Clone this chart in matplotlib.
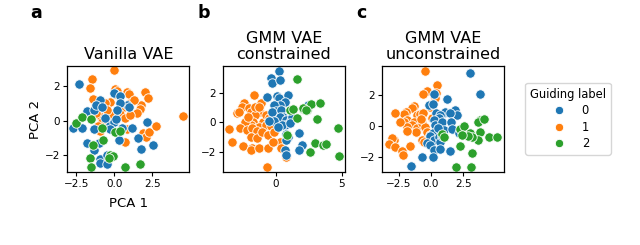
import numpy as np
import matplotlib
matplotlib.use('Agg')
import matplotlib.pyplot as plt
from matplotlib.lines import Line2D

plt.rcParams['font.family'] = ['DejaVu Sans']

colors = ['#1f77b4', '#ff7f0e', '#2ca02c']
labels = ['0', '1', '2']

# panel a: Vanilla VAE  (x, y) per guiding label
a_blue = [(-2.33, 2.16), (-1.78, 0.57), (-1.35, 0.63), (-0.96, 1.22), (-1.24, 0.92),
          (-2.61, -0.31), (-2.70, -0.45), (-2.11, -0.45), (-1.35, -0.49), (-0.26, -0.25),
          (0.0, -0.06), (0.13, 0.08), (-0.26, -0.49), (0.28, -0.65), (0.50, -0.45),
          (1.15, -0.45), (2.17, -0.06), (1.54, -1.04), (1.74, -1.63), (2.52, -1.43),
          (-0.04, 1.61), (0.35, 1.45), (0.83, 0.92), (0.96, 0.78), (0.39, 1.02),
          (0.17, 0.63), (-1.78, -1.29), (-1.02, -1.33), (-1.35, -1.73), (-0.96, -2.22),
          (-0.48, -2.02), (-0.96, -2.47), (-0.48, -2.51), (0.28, -1.14), (-0.59, 0.14),
          (-0.80, 0.82)]
a_orange = [(0.0, 2.94), (-1.46, 2.45), (-1.61, 1.90), (0.07, 1.84), (0.17, 1.71),
            (0.02, 1.57), (0.83, 1.67), (0.93, 1.55), (2.02, 1.67), (2.24, 1.31),
            (-1.39, 1.25), (-0.91, 1.12), (-0.26, 1.08), (-0.59, 1.02), (1.04, 1.06),
            (1.76, 0.92), (1.65, 0.67), (1.48, 0.43), (0.50, 0.73), (0.35, 0.37),
            (-0.26, 0.33), (-0.87, 0.20), (-0.80, -0.06), (-1.09, -0.29), (-0.96, -0.61),
            (-0.37, -0.16), (0.72, 0.14), (0.83, -0.49), (0.72, -1.24), (1.91, -0.75),
            (2.09, -0.98), (2.30, -0.65), (2.72, -0.29), (4.48, 0.27), (1.26, 1.22),
            (-0.48, 0.63), (-1.24, 0.43), (1.04, 0.33)]
a_green = [(-2.54, -0.16), (-2.11, 0.20), (-1.52, 0.08), (-0.80, -0.45), (-0.78, -1.14),
           (-1.39, -1.43), (-1.61, -2.16), (-1.52, -2.71), (-0.26, -2.02), (-0.09, -2.08),
           (-0.37, -2.16), (0.67, -2.71), (1.70, -2.51), (0.07, -0.65), (0.39, -0.59)]

# panel b: GMM VAE constrained
b_blue = [(0.25, 3.50), (-0.33, 3.0), (-0.25, 2.66), (0.31, 2.84), (-0.64, 1.70),
          (0.10, 1.80), (0.25, 1.64), (0.94, 1.86), (0.69, 1.41), (0.31, 1.18),
          (-0.08, 1.18), (0.0, 0.77), (-0.25, 0.73), (0.43, 0.84), (0.56, 0.39),
          (0.31, 0.34), (-0.13, 0.09), (-0.46, 0.09), (0.81, 0.16), (1.20, 0.16),
          (1.27, 0.34), (0.69, -0.18), (0.51, -0.18), (2.47, 1.18), (1.78, -0.70),
          (0.81, -0.80), (0.94, -0.98), (0.76, -1.20), (0.69, -1.89), (0.76, -2.23),
          (2.04, -1.55), (1.78, -1.89), (1.07, -0.07), (0.18, -0.30)]
b_orange = [(-1.60, 1.86), (-2.37, 1.30), (-2.54, 1.07), (-2.95, 0.66), (-2.75, 0.73),
            (-2.04, 0.95), (-1.86, 0.73), (-1.09, 1.30), (-1.17, 0.73), (-1.53, 0.50),
            (-0.97, 0.05), (-1.73, 0.05), (-1.86, -0.18), (-2.29, 0.05), (-1.27, -0.30),
            (-0.71, 0.50), (-0.51, 0.27), (-0.71, -0.18), (-0.33, -0.25), (-3.51, -0.48),
            (-2.70, -0.41), (-2.19, -0.52), (-1.78, -0.41), (-1.42, -0.59), (-1.86, -0.98),
            (-1.42, -1.09), (-1.02, -0.64), (-0.59, -0.86), (-0.15, -0.64), (0.36, -1.32),
            (-3.26, -1.32), (-2.49, -1.61), (-1.78, -1.77), (-1.86, -1.89), (-1.22, -1.77),
            (-0.59, -1.77), (0.43, -1.77), (-0.66, -3.02), (-0.20, -1.32), (0.76, -2.39),
            (-1.53, 1.07), (-1.22, 1.02), (-2.11, 0.39)]
b_green = [(1.63, 2.93), (1.12, 0.84), (1.30, 0.90), (2.09, 0.89), (2.39, 0.84),
           (2.72, 1.25), (3.36, 1.34), (1.63, 0.32), (3.16, 0.20), (4.76, -0.36),
           (0.84, -0.86), (2.98, -1.43), (3.61, -1.55), (3.82, -1.50), (2.60, -2.0),
           (4.83, -2.30), (2.06, 0.96), (2.30, 0.80)]

# panel c: GMM VAE unconstrained
c_blue = [(3.0, 3.42), (3.77, 2.04), (0.21, 2.09), (-0.18, 1.33), (0.16, 1.44),
          (1.24, 1.76), (0.98, 0.80), (1.11, 0.90), (0.41, 0.80), (0.72, 0.69),
          (0.59, 0.47), (1.89, 1.05), (2.02, 0.69), (1.50, 0.80), (0.21, 0.37),
          (0.34, 0.04), (0.85, 0.26), (1.55, 0.26), (0.98, -0.28), (1.63, -0.24),
          (2.14, -0.45), (0.16, -0.49), (-0.05, -0.67), (0.26, -0.92), (0.59, -0.75),
          (-0.31, -1.14), (-0.05, -1.25), (0.72, -1.03), (0.26, -1.57), (0.67, -1.53),
          (1.50, -1.61), (-0.70, -2.0), (0.16, -2.04), (-1.55, -2.60), (0.52, -0.17),
          (0.85, -0.67)]
c_orange = [(-0.49, 3.55), (0.47, 2.62), (-0.31, 2.26), (-0.62, 2.09), (0.41, 2.15),
            (0.34, 1.83), (-0.05, 1.23), (0.08, 1.40), (-1.34, 1.27), (-1.47, 1.12),
            (-1.91, 0.90), (-2.07, 0.75), (-2.76, 0.84), (-1.09, 0.69), (-0.88, 0.75),
            (-0.62, 0.80), (-1.86, 0.37), (-2.07, 0.26), (-1.34, 0.26), (-1.47, 0.04),
            (-1.09, -0.17), (-1.14, -0.39), (-1.86, -0.06), (-1.86, -0.32), (-0.70, 0.15),
            (-0.44, -0.06), (-0.31, -0.39), (-0.05, -0.60), (-0.70, -0.92), (-0.57, -1.03),
            (-1.65, -1.31), (-2.89, -0.92), (-3.02, -0.82), (-3.28, -1.18), (-2.76, -1.40),
            (-2.25, -1.61), (-2.17, -1.89), (0.08, 0.47), (-0.78, 0.41), (-2.38, 0.26)]
c_green = [(0.85, -0.54), (2.27, -0.24), (2.53, 0.0), (3.05, -0.45), (3.77, 0.37),
           (3.62, 0.26), (4.08, 0.41), (3.82, -0.39), (4.47, -0.75), (5.12, -0.71),
           (3.62, -0.92), (3.18, -0.71), (2.84, -0.67), (2.40, -0.60), (2.22, -1.29),
           (3.18, -1.78), (1.96, -2.65), (3.10, -2.69), (0.98, -0.71)]

panels = [
    ('a', 'Vanilla VAE', [a_blue, a_orange, a_green], (-3.1, 4.93), (-3.0, 3.2), [-2.5, 0.0, 2.5], 0.105),
    ('b', 'GMM VAE\nconstrained', [b_blue, b_orange, b_green], (-4.0, 5.26), (-3.38, 3.83), [0, 5], 0.348),
    ('c', 'GMM VAE\nunconstrained', [c_blue, c_orange, c_green], (-3.78, 5.68), (-3.0, 3.88), [-2.5, 0.0, 2.5], 0.597),
]

fig = plt.figure(figsize=(6.4, 2.45), dpi=100)

for letter, title, groups, xlim, ylim, xticks, left in panels:
    ax = fig.add_axes([left, 0.298, 0.191, 0.433])
    # orange, blue, green drawing order roughly matches the overlaps
    for k in [1, 0, 2]:
        pts = np.array(groups[k])
        ax.scatter(pts[:, 0], pts[:, 1], s=46, c=colors[k], edgecolors='white', linewidths=0.6, zorder=2)
    ax.set_xlim(xlim)
    ax.set_ylim(ylim)
    ax.set_xticks(xticks)
    ax.set_yticks([-2, 0, 2])
    ax.tick_params(labelsize=7.5, length=3, width=0.8, pad=2)
    ax.set_title(title, fontsize=11.5, pad=5, linespacing=1.1)
    for sp in ax.spines.values():
        sp.set_linewidth(0.9)
    fig.text(left - (0.057 if letter == 'a' else 0.04), 0.985, letter, fontsize=12.5,
             fontweight='bold', va='top', ha='left')
    if letter == 'a':
        ax.set_xlabel('PCA 1', fontsize=9.5, labelpad=6)
        ax.set_ylabel('PCA 2', fontsize=9.5, labelpad=2)

handles = [Line2D([], [], marker='o', ls='', markersize=6, markerfacecolor=colors[k],
                  markeredgecolor='white', markeredgewidth=0.6) for k in range(3)]
fig.legend(handles, labels, title='Guiding label', loc='upper left',
           bbox_to_anchor=(0.812, 0.684), fontsize=8.3, title_fontsize=8.3,
           frameon=True, handletextpad=1.0, borderpad=0.4, labelspacing=0.3)

fig.savefig('out.png', dpi=100)
